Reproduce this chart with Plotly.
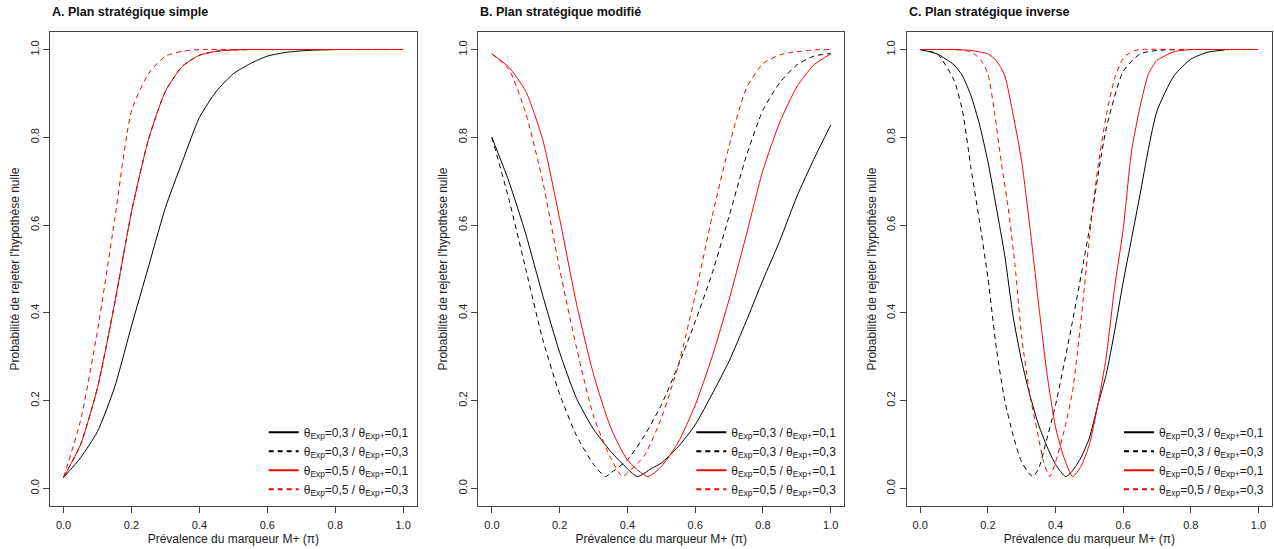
import plotly.graph_objects as go

# --- A. Plan stratégique simple ---
a_bs_x = [0, 0.05, 0.10, 0.15, 0.20, 0.25, 0.30, 0.35, 0.40, 0.45, 0.50, 0.55, 0.60, 0.65, 0.70, 0.75, 0.80]
a_bs_y = [0.025, 0.07, 0.13, 0.23, 0.37, 0.505, 0.64, 0.745, 0.845, 0.905, 0.945, 0.968, 0.985, 0.993, 0.997, 0.999, 1.0]
a_bd_x = [0, 0.05, 0.10, 0.15, 0.20, 0.25, 0.30, 0.35, 0.40, 0.45, 0.50, 0.55, 0.60, 0.70, 0.80]
a_bd_y = [0.025, 0.10, 0.23, 0.42, 0.63, 0.795, 0.905, 0.962, 0.987, 0.996, 0.999, 1.0, 1.0, 1.0, 1.0]
a_rs_x = [0, 0.05, 0.10, 0.15, 0.20, 0.25, 0.30, 0.35, 0.40, 0.45, 0.50, 0.55, 0.60, 0.70, 0.80, 0.90, 1.0]
a_rs_y = [0.025, 0.10, 0.23, 0.42, 0.63, 0.795, 0.905, 0.962, 0.987, 0.996, 0.999, 1.0, 1.0, 1.0, 1.0, 1.0, 1.0]
a_rd_x = [0, 0.05, 0.10, 0.15, 0.20, 0.25, 0.30, 0.35, 0.40, 0.50, 0.60, 0.70, 0.80, 0.90, 1.0]
a_rd_y = [0.025, 0.155, 0.36, 0.61, 0.86, 0.945, 0.985, 0.996, 1.0, 1.0, 1.0, 1.0, 1.0, 1.0, 1.0]

# --- B. Plan stratégique modifié ---
b_bs_x = [0, 0.05, 0.10, 0.15, 0.20, 0.25, 0.30, 0.35, 0.40, 0.43, 0.47, 0.50, 0.55, 0.60, 0.65, 0.70, 0.75, 0.80, 0.85, 0.90, 0.95, 1.0]
b_bs_y = [0.80, 0.70, 0.58, 0.44, 0.31, 0.205, 0.135, 0.085, 0.045, 0.027, 0.045, 0.058, 0.095, 0.145, 0.215, 0.29, 0.38, 0.475, 0.565, 0.665, 0.75, 0.828]
b_bd_x = [0, 0.05, 0.10, 0.15, 0.20, 0.25, 0.30, 0.335, 0.35, 0.40, 0.45, 0.50, 0.55, 0.60, 0.65, 0.70, 0.75, 0.80, 0.85, 0.90, 0.95, 1.0]
b_bd_y = [0.80, 0.66, 0.50, 0.34, 0.215, 0.12, 0.055, 0.027, 0.035, 0.065, 0.12, 0.19, 0.28, 0.38, 0.49, 0.62, 0.755, 0.862, 0.925, 0.965, 0.985, 0.991]
b_rs_x = [0, 0.05, 0.10, 0.15, 0.20, 0.25, 0.30, 0.35, 0.40, 0.46, 0.50, 0.55, 0.60, 0.65, 0.70, 0.75, 0.80, 0.85, 0.90, 0.95, 1.0]
b_rs_y = [0.99, 0.96, 0.905, 0.795, 0.615, 0.42, 0.26, 0.14, 0.065, 0.027, 0.05, 0.105, 0.19, 0.30, 0.43, 0.575, 0.725, 0.835, 0.915, 0.965, 0.99]
b_rd_x = [0, 0.05, 0.10, 0.15, 0.20, 0.25, 0.30, 0.35, 0.385, 0.40, 0.45, 0.50, 0.55, 0.60, 0.65, 0.70, 0.75, 0.80, 0.85, 0.90, 0.95, 1.0]
b_rd_y = [0.99, 0.955, 0.855, 0.70, 0.50, 0.32, 0.165, 0.07, 0.027, 0.035, 0.075, 0.16, 0.28, 0.44, 0.62, 0.78, 0.91, 0.968, 0.988, 0.995, 0.999, 1.0]

# --- C. Plan stratégique inverse ---
c_bs_x = [0, 0.05, 0.10, 0.125, 0.15, 0.175, 0.20, 0.225, 0.25, 0.275, 0.30, 0.325, 0.35, 0.375, 0.40, 0.43,
          0.45, 0.475, 0.50, 0.525, 0.55, 0.575, 0.60, 0.625, 0.65, 0.675, 0.70, 0.75, 0.80, 0.85, 0.90]
c_bs_y = [1.0, 0.99, 0.965, 0.94, 0.895, 0.83, 0.745, 0.64, 0.53, 0.39, 0.29, 0.21, 0.145, 0.095, 0.055, 0.027,
          0.04, 0.07, 0.115, 0.19, 0.26, 0.36, 0.47, 0.57, 0.67, 0.775, 0.86, 0.94, 0.978, 0.994, 0.999]
c_bd_x = [0, 0.05, 0.10, 0.125, 0.15, 0.175, 0.20, 0.225, 0.25, 0.275, 0.30, 0.332, 0.35, 0.37, 0.40,
          0.45, 0.50, 0.55, 0.60, 0.65, 0.70, 0.80, 0.90]
c_bd_y = [1.0, 0.99, 0.93, 0.86, 0.73, 0.61, 0.48, 0.32, 0.20, 0.12, 0.06, 0.027, 0.045, 0.10, 0.19,
          0.38, 0.59, 0.82, 0.95, 0.99, 0.998, 1.0, 1.0]
c_rs_x = [0, 0.10, 0.15, 0.20, 0.225, 0.25, 0.275, 0.30, 0.325, 0.35, 0.375, 0.40, 0.425, 0.451,
          0.475, 0.50, 0.525, 0.55, 0.575, 0.60, 0.625, 0.65, 0.675, 0.70, 0.75, 0.80, 0.90, 1.0]
c_rs_y = [1.0, 1.0, 0.998, 0.99, 0.975, 0.94, 0.85, 0.745, 0.59, 0.42, 0.26, 0.14, 0.07, 0.027,
          0.05, 0.10, 0.19, 0.30, 0.46, 0.59, 0.77, 0.87, 0.945, 0.975, 0.995, 1.0, 1.0, 1.0]
c_rd_x = [0, 0.10, 0.15, 0.18, 0.20, 0.22, 0.24, 0.26, 0.28, 0.30, 0.325, 0.345, 0.365, 0.383,
          0.40, 0.425, 0.45, 0.475, 0.50, 0.525, 0.55, 0.575, 0.60, 0.625, 0.65, 0.80, 1.0]
c_rd_y = [1.0, 1.0, 0.995, 0.975, 0.945, 0.855, 0.74, 0.64, 0.51, 0.345, 0.21, 0.135, 0.06, 0.027,
          0.06, 0.13, 0.22, 0.38, 0.57, 0.73, 0.85, 0.935, 0.98, 0.995, 1.0, 1.0, 1.0]

titles = ['A. Plan stratégique simple', 'B. Plan stratégique modifié', 'C. Plan stratégique inverse']
labels = ['θ<sub>Exp</sub>=0,3 / θ<sub>Exp+</sub>=0,1',
          'θ<sub>Exp</sub>=0,3 / θ<sub>Exp+</sub>=0,3',
          'θ<sub>Exp</sub>=0,5 / θ<sub>Exp+</sub>=0,1',
          'θ<sub>Exp</sub>=0,5 / θ<sub>Exp+</sub>=0,3']
colors = ['black', 'black', 'red', 'red']
dashes = ['solid', '5px,4px', 'solid', '5px,4px']

panels = [
    [(a_bs_x, a_bs_y), (a_bd_x, a_bd_y), (a_rs_x, a_rs_y), (a_rd_x, a_rd_y)],
    [(b_bs_x, b_bs_y), (b_bd_x, b_bd_y), (b_rs_x, b_rs_y), (b_rd_x, b_rd_y)],
    [(c_bs_x, c_bs_y), (c_bd_x, c_bd_y), (c_rs_x, c_rs_y), (c_rd_x, c_rd_y)],
]

W, H = 1274, 549
ml, mr, mt, mb = 50, 2, 32, 43
pw = W - ml - mr
box_px = [(50, 416.7), (478.3, 844.3), (906.7, 1272)]
domains = [[(l - ml) / pw, min((r - ml) / pw, 1)] for l, r in box_px]

font = 'Liberation Sans, Arial, sans-serif'
fig = go.Figure()

for p, series in enumerate(panels):
    ax = '' if p == 0 else str(p + 1)
    leg = 'legend' if p == 0 else 'legend' + str(p + 1)
    for k, (xs, ys) in enumerate(series):
        fig.add_trace(go.Scatter(x=xs, y=ys, mode='lines', name=labels[k], showlegend=False,
                                 line=dict(color=colors[k], width=1, dash=dashes[k], shape='spline', smoothing=0.6),
                                 xaxis='x' + ax, yaxis='y' + ax))
    # legend keys drawn a bit thicker, as in the original
    for k in range(4):
        fig.add_trace(go.Scatter(x=[None], y=[None], mode='lines', name=labels[k],
                                 line=dict(color=colors[k], width=2, dash=dashes[k]),
                                 xaxis='x' + ax, yaxis='y' + ax, legend=leg, hoverinfo='skip'))
    axis_common = dict(showline=True, linecolor='#444', linewidth=1, mirror=True, automargin=False,
                       ticks='outside', ticklen=6, tickcolor='#444', showgrid=False, zeroline=False,
                       tickfont=dict(size=11, color='#222', family=font),
                       range=[-0.04, 1.04], tickvals=[0, 0.2, 0.4, 0.6, 0.8, 1.0], tickformat='.1f')
    fig.update_layout({
        'xaxis' + ax: dict(axis_common, domain=domains[p], anchor='y' + ax, ticklabelstandoff=3,
                           title=dict(text='Prévalence du marqueur M+ (π)', standoff=4,
                                      font=dict(size=12, color='#222', family=font))),
        'yaxis' + ax: dict(axis_common, domain=[0, 1], anchor='x' + ax, tickangle=-90,
                           title=dict(text="Probabilité de rejeter l'hypothèse nulle", standoff=6,
                                      font=dict(size=12, color='#222', family=font))),
        leg: dict(x=(box_px[p][1] - 3 - ml) / pw, xanchor='right', y=0.005, yanchor='bottom',
                  bgcolor='rgba(0,0,0,0)', font=dict(size=12, color='#222', family=font),
                  itemwidth=30, tracegroupgap=0),
    })
    fig.add_annotation(text='<b>' + titles[p] + '</b>', xref='x' + ax + ' domain', yref='y' + ax + ' domain',
                       x=0, y=1, xanchor='left', yanchor='bottom', yshift=11, showarrow=False,
                       font=dict(size=12.5, color='#111', family=font))

fig.update_layout(width=W, height=H, margin=dict(l=ml, r=mr, t=mt, b=mb),
                  plot_bgcolor='white', paper_bgcolor='white', showlegend=True)

# page body has a default margin; remove it so the figure sits at the window origin
fig.write_html("out.html", config={'displayModeBar': False},
               post_script="document.body.style.margin='0';document.body.style.overflow='hidden';")
